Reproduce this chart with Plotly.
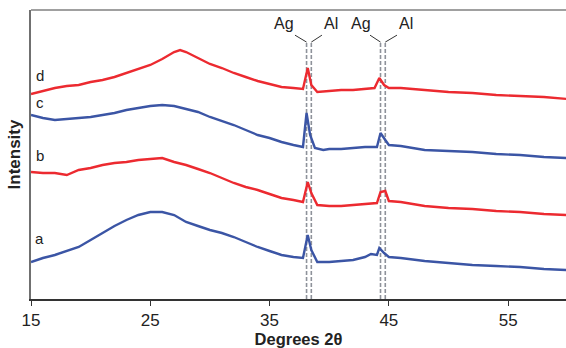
import plotly.graph_objects as go

# ---- data (intensity in arbitrary units) ----
two_theta_a = [15, 16, 17, 18, 19, 20, 21, 22, 23, 24, 25, 26, 27, 28, 29, 30, 31, 32, 33, 34, 35, 36, 37,
               37.8, 38.2, 38.5, 39, 40, 41, 42, 43, 43.5, 44, 44.2, 44.6, 45, 46, 48, 50, 52, 54, 56, 58, 60]
intensity_a = [38, 42, 45, 49, 53, 60, 67, 74, 80, 85, 88, 88, 85, 78, 74, 70, 67, 63, 58, 53, 49, 45, 43,
               42, 65, 50, 38, 38, 39, 40, 43, 46, 45, 52, 47, 43, 42, 39, 37, 35, 34, 33, 31, 30]

two_theta_b = [15, 16, 17, 18, 19, 20, 21, 22, 23, 24, 25, 26, 27, 28, 29, 30, 31, 32, 33, 34, 35, 36, 37,
               37.8, 38.2, 38.5, 39, 40, 41, 42, 43, 44, 44.3, 44.7, 45, 46, 48, 50, 52, 54, 56, 58, 60]
intensity_b = [128, 127, 127, 125, 130, 132, 135, 137, 138, 140, 141, 142, 138, 135, 131, 127, 122, 117, 113, 110, 106, 102, 100,
               98, 118, 107, 95, 94, 94, 95, 96, 97, 108, 109, 99, 98, 94, 92, 91, 89, 88, 86, 85]

two_theta_c = [15, 16, 17, 18, 19, 20, 21, 22, 23, 24, 25, 26, 27, 28, 29, 30, 31, 32, 33, 34, 35, 36, 37,
               37.8, 38.1, 38.4, 38.8, 39.5, 40, 41, 42, 43, 44, 44.3, 44.7, 45, 46, 48, 50, 52, 54, 56, 58, 60]
intensity_c = [185, 182, 180, 181, 182, 183, 185, 187, 190, 192, 194, 195, 194, 191, 188, 183, 179, 175, 170, 165, 162, 158, 155,
               153, 187, 165, 152, 150, 151, 151, 152, 153, 153, 167, 160, 155, 154, 150, 149, 148, 146, 145, 143, 142]

two_theta_d = [15, 16, 17, 18, 19, 20, 21, 22, 23, 24, 25, 26, 27, 27.5, 28, 29, 30, 31, 32, 33, 34, 35, 36, 37,
               37.8, 38.2, 38.5, 39, 40, 41, 42, 43, 43.8, 44.2, 44.6, 45, 46, 48, 50, 52, 54, 56, 58, 60]
intensity_d = [206, 209, 212, 214, 215, 218, 220, 223, 227, 231, 235, 241, 248, 250, 248, 242, 236, 232, 227, 223, 219, 216, 213, 212,
               211, 232, 215, 208, 209, 210, 210, 211, 212, 222, 215, 212, 212, 210, 208, 207, 205, 204, 203, 201]

series_labels = ["a", "b", "c", "d"]
label_positions_y = [62, 145, 198, 225]

ref_names = ["Ag", "Al", "Ag", "Al"]
ref_positions = [38.1, 38.5, 44.3, 44.7]
ref_label_x = [37.2, 39.4, 43.65, 45.7]
ref_connector_x = [37.13, 39.39, 43.42, 45.68]

x_ticks = [15, 25, 35, 45, 55]

RED = "#ec2a30"
BLUE = "#3b55a5"

fig = go.Figure()
traces = [(two_theta_a, intensity_a, BLUE), (two_theta_b, intensity_b, RED),
          (two_theta_c, intensity_c, BLUE), (two_theta_d, intensity_d, RED)]
for (xs, ys, col), name in zip(traces, series_labels):
    fig.add_trace(go.Scatter(x=xs, y=ys, mode="lines", name=name,
                             line=dict(color=col, width=2.4), showlegend=False))

shapes = []
for xr in ref_positions:
    shapes.append(dict(type="line", xref="x", yref="paper", x0=xr, x1=xr, y0=0, y1=0.889,
                       line=dict(color="#8e929a", width=1.6, dash="4px,2px"), layer="below"))
# label connectors
for cx, xr in zip(ref_connector_x, ref_positions):
    shapes.append(dict(type="line", xref="x", yref="paper", x0=cx, x1=xr, y0=0.913, y1=0.889,
                       line=dict(color="#333333", width=1)))
# top frame line
shapes.append(dict(type="line", xref="paper", yref="paper", x0=0, x1=1, y0=1, y1=1,
                   line=dict(color="#808080", width=1.5)))

annotations = []
for name, lx in zip(ref_names, ref_label_x):
    annotations.append(dict(x=lx, y=0.952, xref="x", yref="paper", text=name, showarrow=False,
                            xanchor="right" if name == "Ag" else "left", yanchor="middle",
                            font=dict(size=16, color="#222222")))
for name, yv in zip(series_labels, label_positions_y):
    annotations.append(dict(x=15.75, y=yv, xref="x", yref="y", text=name, showarrow=False,
                            xanchor="center", yanchor="middle", font=dict(size=15, color="#222222")))

fig.update_layout(
    width=566, height=348,
    margin=dict(l=31, r=0, t=10, b=49),
    paper_bgcolor="white", plot_bgcolor="white",
    font=dict(family="Liberation Sans, Arial, sans-serif", size=14, color="#222222"),
    shapes=shapes, annotations=annotations,
    xaxis=dict(range=[15, 59.85], tickvals=x_ticks, ticks="outside", ticklen=5, tickwidth=1.2,
               tickcolor="#333333", showline=True, linecolor="#333333", linewidth=1.5,
               showgrid=False, zeroline=False, automargin=False,
               tickfont=dict(size=17, color="#222222"),
               title=dict(text="<b>Degrees 2θ</b>", standoff=6, font=dict(size=16.5))),
    yaxis=dict(range=[1, 290], showticklabels=False, ticks="", showline=True,
               linecolor="#707070", linewidth=1.5, showgrid=False, zeroline=False, automargin=False,
               title=dict(text="<b>Intensity</b>", standoff=4, font=dict(size=17))),
)

fig.write_html("out.html", config={"displayModeBar": False},
               post_script="document.body.style.margin='0';document.body.style.padding='0';")
